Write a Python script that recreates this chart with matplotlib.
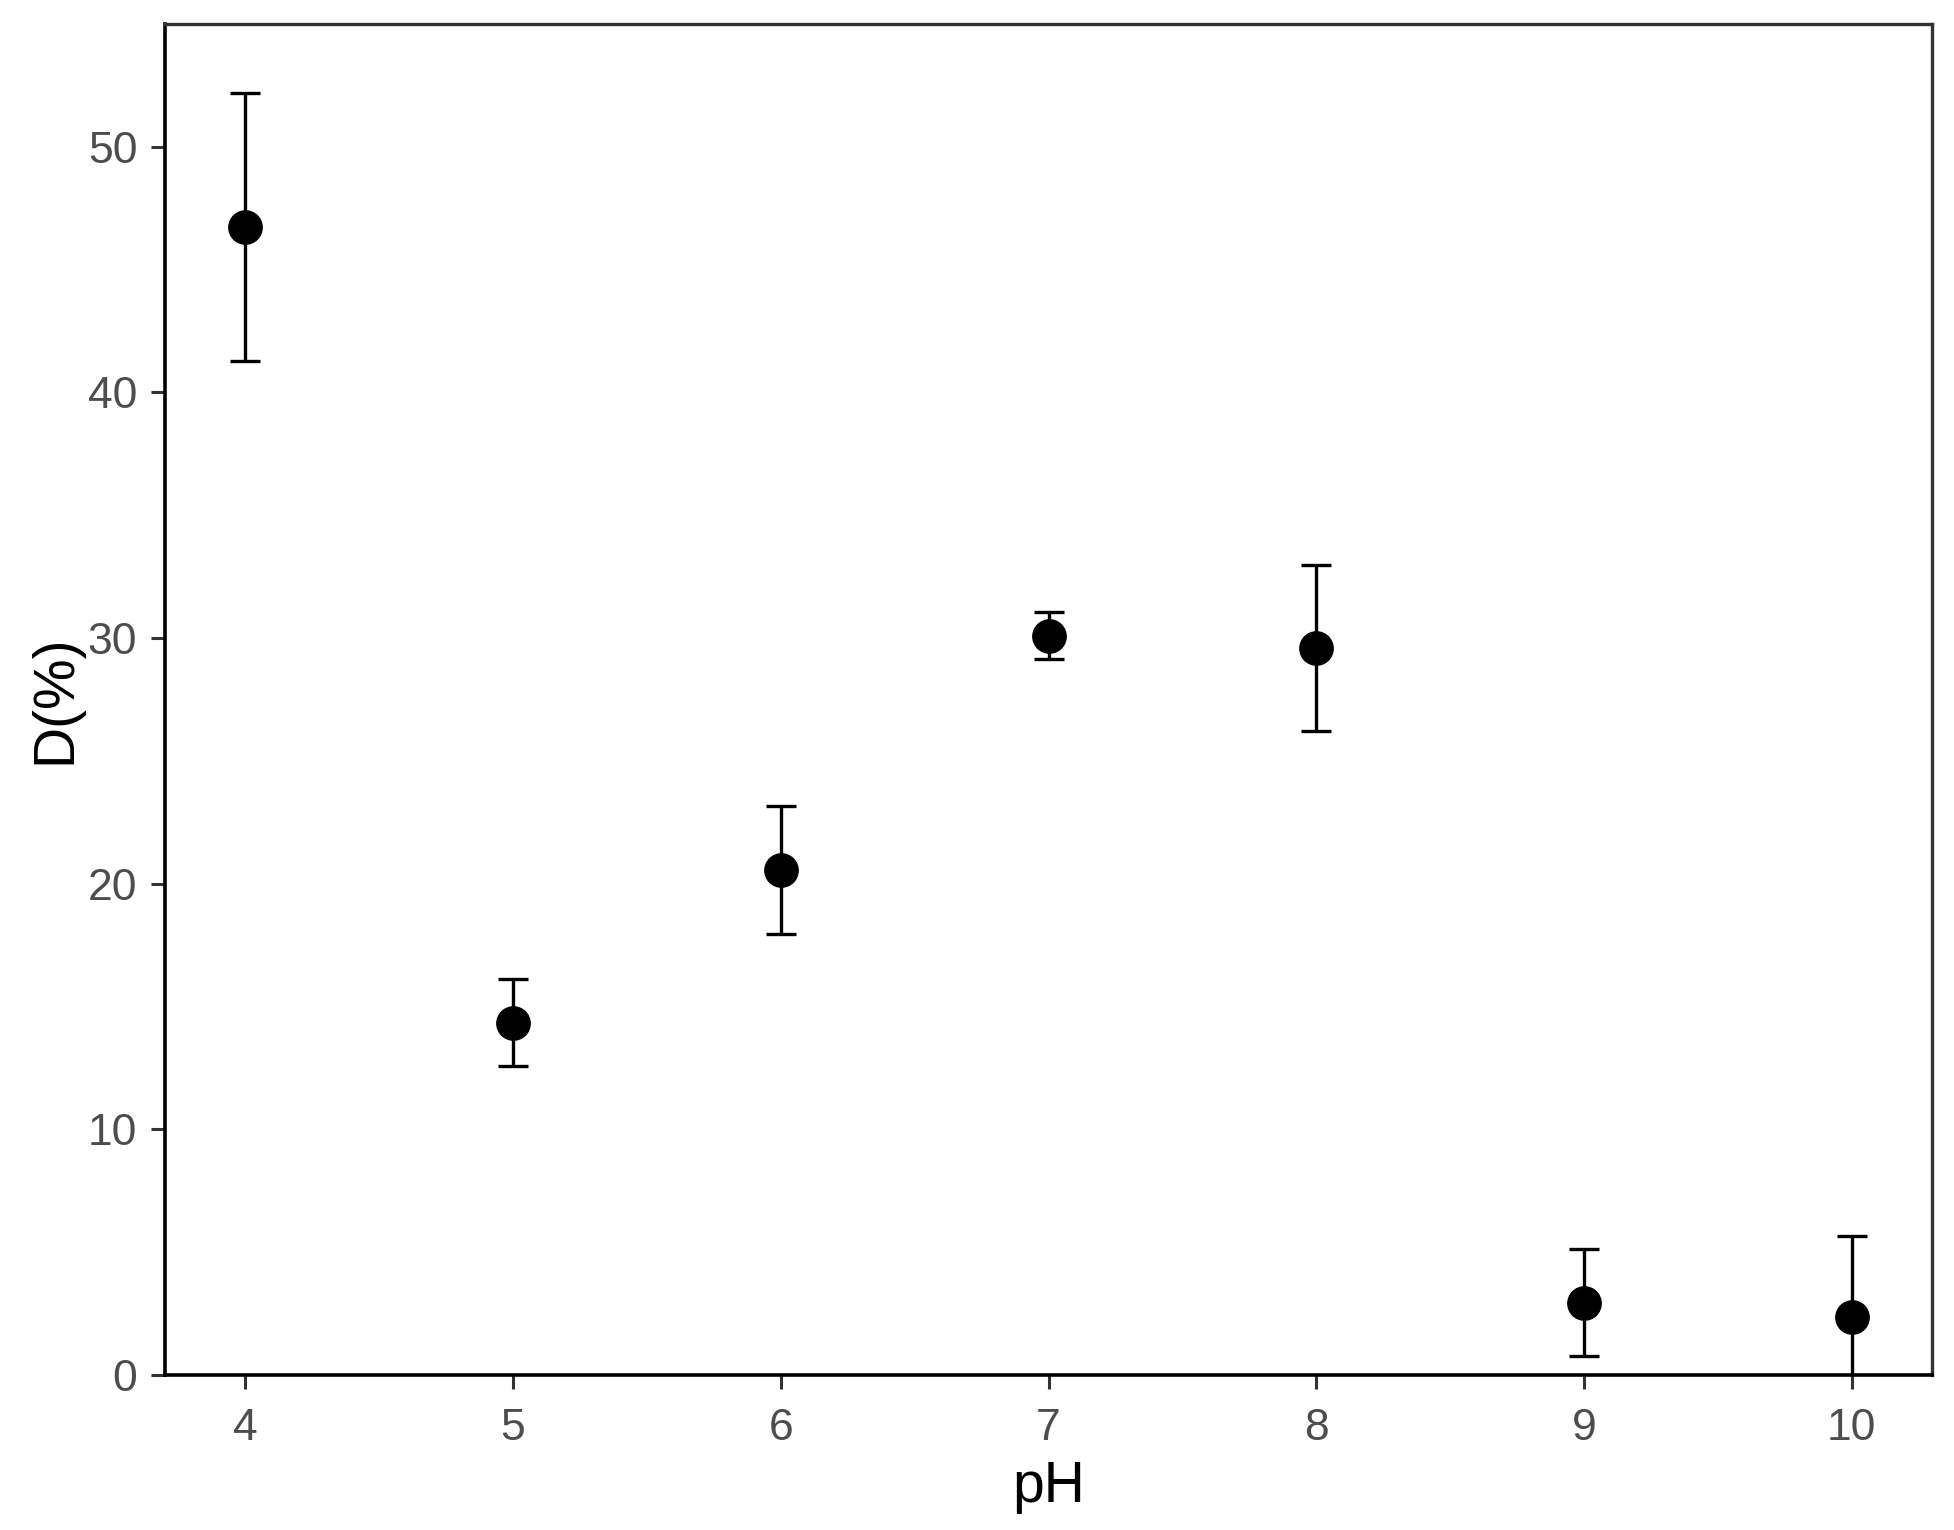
import matplotlib
matplotlib.use('Agg')
import matplotlib.pyplot as plt

ph = [4, 5, 6, 7, 8, 9, 10]
d_mean = [46.75, 14.35, 20.55, 30.1, 29.6, 2.95, 2.36]
d_sd = [5.45, 1.77, 2.6, 0.96, 3.37, 2.18, 3.3]

plt.rcParams['font.family'] = ['Liberation Sans', 'DejaVu Sans']

fig = plt.figure(figsize=(19.54, 15.3), dpi=100)
ax = fig.add_axes([0.0845, 0.1013, 0.9042, 0.883])

ax.errorbar(ph, d_mean, yerr=d_sd, fmt='o', color='black', ecolor='black',
            markersize=24, elinewidth=2.4, capsize=10.5, capthick=2.4)

ax.set_xlim(3.7, 10.3)
ax.set_ylim(0, 55)
ax.set_xticks(ph)
ax.set_yticks([0, 10, 20, 30, 40, 50])

for s in ['left', 'bottom']:
    ax.spines[s].set_color('black')
    ax.spines[s].set_linewidth(2.6)
for s in ['top', 'right']:
    ax.spines[s].set_color('#333333')
    ax.spines[s].set_linewidth(2.4)

ax.tick_params(axis='both', length=10, width=2.2, color='#333333',
               labelsize=32, labelcolor='#4D4D4D')
ax.tick_params(axis='x', pad=14)
ax.tick_params(axis='y', pad=10)

ax.set_xlabel('pH', fontsize=41, labelpad=8)
ax.set_ylabel('D(%)', fontsize=41, labelpad=4)

fig.savefig('out.png', dpi=100)
